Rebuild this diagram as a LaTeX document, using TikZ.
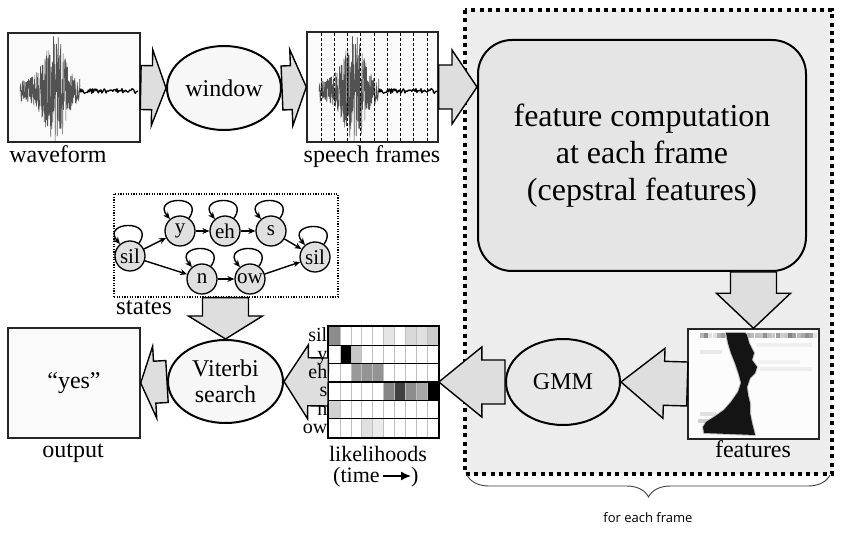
\documentclass[tikz,border=0pt]{standalone}
\usepackage{fontspec}
\setmainfont{Liberation Serif}
\newfontfamily\uisans{Open Sans}
\usetikzlibrary{calc,arrows.meta,shapes.geometric,decorations.pathreplacing}
\newcommand\fsA{\fontsize{24}{26}\selectfont}
\newcommand\fsS{\fontsize{21}{22}\selectfont}
\newcommand\fsG{\fontsize{20}{21}\selectfont}
\newcommand\fsB{\fontsize{32}{37}\selectfont}
\tikzset{
 box/.style={draw=black!85, line width=1.4pt, fill=black!2, inner sep=0pt},
 oval/.style={ellipse, draw, line width=2pt, fill=black!3, inner sep=0pt, align=center, font=\fsA},
 blockarrow/.style={draw, line width=1.4pt, fill=black!13, line join=miter},
 st/.style={circle, draw, line width=1.3pt, fill=black!12, minimum size=30pt, inner sep=0pt, font=\fsS},
 tr/.style={-{Stealth[length=7pt,width=6pt]}, line width=1.4pt},
 lab/.style={font=\fsA, anchor=base, inner sep=0pt},
}
\newcommand\bigarrow[5]{%
 \coordinate (ba-t) at #1; \coordinate (ba-p) at #2;
 \coordinate (ba-h) at ($(ba-p)!#3!(ba-t)$);
 \draw[blockarrow] ($(ba-t)!#4!90:(ba-p)$) -- ($(ba-h)!#4!90:(ba-p)$) -- ($(ba-h)!#5!90:(ba-p)$) -- (ba-p) -- ($(ba-h)!#5!-90:(ba-p)$) -- ($(ba-h)!#4!-90:(ba-p)$) -- ($(ba-t)!#4!-90:(ba-p)$) -- cycle;}
\newcommand\speechwave[1]{%
 \begin{scope}[shift={(#1,0)}]
 \clip (9,34) rectangle (139,141);
 \pgfmathsetseed{11}
 \draw[black!68, line width=0.55pt] plot[domain=20:80, samples=320] (\x, {91 + (12 + 38*exp(-((\x-56)^2)/120) + 12*exp(-((\x-50)^2)/200))*rand});
 \draw[black, line width=1.3pt, line join=round] plot[domain=80:138, samples=70] (\x, {91 + 2.4*rand});
 \end{scope}}
\newcommand\blobpath{(726,333) -- (728,343) -- (731,353) -- (735,363) -- (739,375) -- (741,383) -- (738,392) -- (731,402) -- (724,410) -- (714,417) -- (706,422) -- (703,427) -- (704,433) -- (755,435) -- (752,423) -- (750,413) -- (750,403) -- (748,395) -- (747,387) -- (750,378) -- (755,373) -- (757,367) -- (752,360) -- (754,353) -- (751,347) -- (749,343) -- (747,335) -- (745,333) -- cycle}
\begin{document}
\begin{tikzpicture}[x=1pt,y=-1pt]
\useasboundingbox (0,0) rectangle (844,534);
\fill[white] (0,0) rectangle (844,534);

% for-each-frame region
\fill[black!7] (465,10) rectangle (832,474);
\draw[line width=4pt, dash pattern=on 4pt off 4.3pt] (465,10) rectangle (832,474);
\draw[decorate, decoration={brace, amplitude=22pt}, line width=0.9pt, black!75] (830,475) -- (467,475);
\node[font=\uisans\fontsize{13}{15}\selectfont, anchor=base, inner sep=0pt] (fef) at (648,523) {for each frame};

% top row
\node[box, minimum width=132pt, minimum height=109pt] (wave) at (74,87.5) {};
\speechwave{0}
\node[lab] (wavelab) at (58,163) {waveform};
\node[oval, minimum width=114pt, minimum height=84pt] (window) at (224,88) {window};
\node[box, minimum width=131pt, minimum height=110pt] (frames) at (372.5,87) {};
\speechwave{299}
\foreach \k in {0,...,8} \draw[line width=0.6pt, dash pattern=on 3pt off 2pt] ({321+13.25*\k},33) -- ({321+13.25*\k},141);
\node[lab] (frameslab) at (372,163) {speech frames};
\node[draw, line width=2pt, rounded corners=34pt, fill=black!10, minimum width=328pt, minimum height=231pt, align=center, font=\fsB] (fc) at (642,155.5) {feature computation\\at each frame\\(cepstral features)};

% features image
\node[box, fill=black!1, minimum width=131pt, minimum height=110pt] (feat) at (753.5,384) {};
\begin{scope}
\clip (689,330) rectangle (818,438);
\pgfmathsetseed{5}
\foreach \i in {0,...,27} {
  \pgfmathsetmacro\gv{int(10+40*rnd)}
  \fill[black!\gv] ({700+4.2*\i},333) rectangle ({704+4.2*\i},338);
}
\foreach \yy/\xa/\xb/\g in {343/756/812/6, 350/700/722/9, 360/758/800/5, 367/760/812/7, 412/700/716/12, 419/698/710/18} {
  \fill[black!\g] (\xa,\yy) rectangle (\xb,{\yy+4});
}
\draw[black!22, line width=2pt, line join=round] \blobpath;
\fill[black!92] \blobpath;
\end{scope}
\node[lab] (featlab) at (753,458) {features};
\node[oval, fill=black!9, minimum width=114pt, minimum height=86pt] (gmm) at (563,382) {GMM};

% likelihood grid
\node[draw, line width=1.6pt, minimum width=109pt, minimum height=110pt, inner sep=0pt] (grid) at (383.5,382) {};
\foreach \row [count=\r from 0] in {{45,0,0,0,0,10,0,15,12,20},{0,100,22,0,0,0,0,0,0,0},{0,0,40,42,42,0,0,0,0,0},{0,0,0,0,0,48,75,45,35,100},{18,0,0,0,0,0,0,0,0,0},{0,0,0,12,8,0,0,0,0,0}} {
  \foreach \v [count=\c from 0] in \row {
    \fill[black!\v] ({329+10.9*\c},{327+18.333*\r}) rectangle ({329+10.9*(\c+1)},{327+18.333*(\r+1)});
  }
}
\foreach \c in {1,...,9} \draw[black!25, line width=0.6pt] ({329+10.9*\c},327) -- ({329+10.9*\c},437);
\foreach \r in {1,...,5} \draw[black, line width=1.2pt] (329,{327+18.333*\r}) -- (438,{327+18.333*\r});
\draw[line width=1.6pt] (grid.north west) rectangle (grid.south east);
\node[lab, font=\fontsize{22}{24}\selectfont] (lk) at (378,462) {likelihoods};
\node[font=\fontsize{22}{24}\selectfont, anchor=base west, inner sep=0pt] (tm) at (333,483) {(time};
\node[font=\fontsize{22}{24}\selectfont, anchor=base west, inner sep=0pt] (tp) at (411,483) {)};
\coordinate (ta) at ($(tm.base east)+(3,-7)$);
\coordinate (tb) at ($(tp.base west)+(0,-7)$);
\draw[line width=1.5pt, -{Latex[length=10pt,width=9pt]}] (ta) -- (tb);

% bottom left
\node[oval, minimum width=115pt, minimum height=83pt, text depth=0pt] (vit) at (225.5,381.5) {Viterbi\\search};
\node[box, minimum width=132pt, minimum height=110pt, font=\fsA] (out) at (74,383) {“yes”};
\node[lab] (outlab) at (73,458) {output};

% states
\node[draw, line width=1.2pt, dash pattern=on 1.2pt off 1.4pt, minimum width=224pt, minimum height=103pt] (states) at (226,245.5) {};
\node[lab, font=\fontsize{25}{26}\selectfont] (stlab) at (144,315) {states};
\node[st] (s1) at (130,256) {sil};
\node[st] (sy) at (180,231) {y};
\node[st] (se) at (225,231) {eh};
\node[st] (ss) at (271,231) {s};
\node[st] (s2) at (315,257) {sil};
\node[st] (sn) at (202,279) {n};
\node[st] (so) at (250,279) {ow};
\foreach \a/\b in {s1/sy, s1/sn, sy/se, se/ss, ss/s2, sn/so, so/s2} \draw[tr] (\a) -- (\b);
\foreach \a in {s1,sy,se,ss,s2,sn,so} \path (\a) edge[tr, out=55, in=130, looseness=4] (\a);

% block arrows
\bigarrow{(wave.east)}{(window.west)}{14pt}{22pt}{38pt}
\bigarrow{(window.east)}{(frames.west)}{15pt}{22pt}{38pt}
\bigarrow{(frames.east)}{(fc.west |- frames.east)}{25pt}{22pt}{37pt}
\bigarrow{(feat.north |- fc.south)}{(feat.north)}{35pt}{23pt}{37pt}
\bigarrow{(feat.west)}{(gmm.east)}{43pt}{22pt}{35pt}
\bigarrow{(gmm.west)}{(grid.east)}{43pt}{22pt}{35pt}
\bigarrow{(grid.west)}{(vit.east)}{24pt}{24pt}{37pt}
\bigarrow{(vit.west)}{(out.east)}{14pt}{21pt}{36pt}
\bigarrow{(states.south -| vit.north)}{(vit.north)}{23pt}{23pt}{37pt}

% grid row labels (on top of the arrow)
\foreach \t [count=\r from 0] in {sil,y,eh,s,n,ow} {
  \node[font=\fsG, anchor=base east, inner sep=0pt] (rl\r) at (327.5,{327+18.333*\r+15}) {\t};
}
\end{tikzpicture}
\end{document}
